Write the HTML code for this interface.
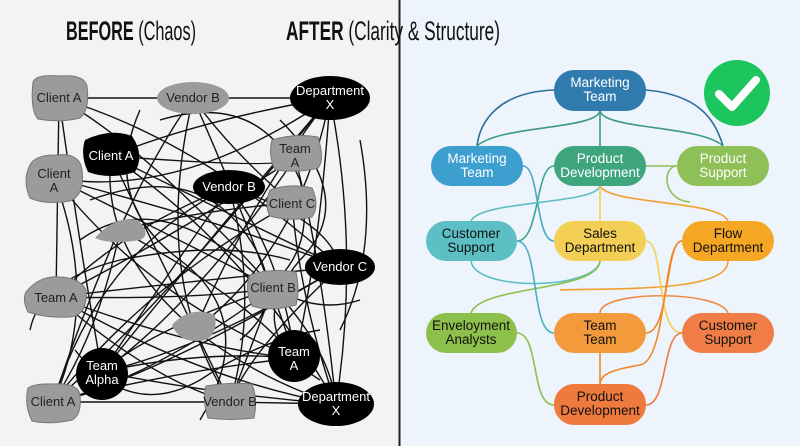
<!DOCTYPE html>
<html><head><meta charset="utf-8"><style>
html,body{margin:0;padding:0;width:800px;height:446px;overflow:hidden;background:#f3f3f3}
svg{display:block}
text{font-family:"Liberation Sans",sans-serif}
</style></head><body>
<svg width="800" height="446" viewBox="0 0 800 446" xmlns="http://www.w3.org/2000/svg">
<rect x="0" y="0" width="400" height="446" fill="#f3f3f3"/>
<rect x="400" y="0" width="400" height="446" fill="#edf4fb"/>
<rect x="398.5" y="0" width="2" height="446" fill="#222"/>
<text x="66" y="40" font-size="27" textLength="130" lengthAdjust="spacingAndGlyphs" fill="#111"><tspan font-weight="bold">BEFORE</tspan> (Chaos)</text>
<text x="286" y="40" font-size="27" textLength="214" lengthAdjust="spacingAndGlyphs" fill="#111"><tspan font-weight="bold">AFTER</tspan> (Clarity &amp; Structure)</text>

<g fill="none" stroke="#111" stroke-width="1.4">
<path d="M59,98 L193,98 L330,98"/>
<path d="M59,98 Q150,150 273,288"/>
<path d="M59,98 Q200,140 340,267"/>
<path d="M59,98 L56,297"/>
<path d="M59,98 Q80,250 102,372"/>
<path d="M193,98 Q120,200 53,402"/>
<path d="M193,98 Q230,150 292,203"/>
<path d="M193,98 Q260,250 295,358"/>
<path d="M193,98 Q150,280 230,402"/>
<path d="M330,98 Q200,120 111,156"/>
<path d="M330,98 Q180,200 54,178"/>
<path d="M330,98 Q200,250 102,372"/>
<path d="M330,98 Q320,250 295,358"/>
<path d="M330,98 Q360,250 336,404"/>
<path d="M330,98 Q250,200 195,330"/>
<path d="M330,98 Q150,320 53,402"/>
<path d="M111,156 Q200,200 340,267"/>
<path d="M111,156 Q250,250 336,404"/>
<path d="M111,156 Q180,300 230,402"/>
<path d="M111,156 Q290,170 295,158"/>
<path d="M54,178 Q150,300 295,358"/>
<path d="M54,178 Q200,250 273,288"/>
<path d="M54,178 Q250,230 340,267"/>
<path d="M54,178 Q100,300 53,402"/>
<path d="M295,158 Q150,250 56,297"/>
<path d="M295,158 Q200,300 102,372"/>
<path d="M295,158 Q320,250 336,404"/>
<path d="M229,187 Q100,250 53,402"/>
<path d="M229,187 Q150,300 102,372"/>
<path d="M229,187 Q280,250 295,358"/>
<path d="M229,187 Q260,300 230,402"/>
<path d="M229,187 Q120,230 56,297"/>
<path d="M229,187 Q330,220 340,267"/>
<path d="M292,203 Q150,280 53,402"/>
<path d="M292,203 Q200,210 120,230"/>
<path d="M292,203 Q300,300 336,404"/>
<path d="M340,267 Q200,280 56,297"/>
<path d="M340,267 Q200,350 102,372"/>
<path d="M340,267 Q250,350 230,402"/>
<path d="M340,267 Q150,380 53,402"/>
<path d="M56,297 Q200,300 273,288"/>
<path d="M56,297 Q200,350 295,358"/>
<path d="M56,297 Q150,380 230,402"/>
<path d="M56,297 Q200,380 336,404"/>
<path d="M273,288 Q150,330 102,372"/>
<path d="M273,288 Q150,380 53,402"/>
<path d="M273,288 Q330,350 336,404"/>
<path d="M273,288 Q250,350 230,402"/>
<path d="M102,372 Q200,350 295,358"/>
<path d="M102,372 Q220,395 336,404"/>
<path d="M53,402 L230,402 L336,404"/>
<path d="M53,402 Q180,370 295,358"/>
<path d="M120,230 Q250,300 295,358"/>
<path d="M120,230 Q100,330 53,402"/>
<path d="M195,330 Q300,250 330,98"/>
<path d="M195,330 Q100,250 111,156"/>
<path d="M195,330 Q260,380 336,404"/>
<path d="M160,120 Q260,90 300,180 Q320,260 250,300"/>
<path d="M80,240 Q150,190 240,260 Q300,320 360,300"/>
<path d="M75,350 Q130,420 200,380 Q260,340 320,330"/>
<path d="M140,110 Q100,200 180,260 Q260,320 200,420"/>
<path d="M280,120 Q360,200 300,260 Q240,330 320,380"/>
<path d="M90,200 Q200,160 250,240 Q290,300 240,340"/>
<path d="M30,330 Q40,280 120,260 Q220,240 290,260"/>
<path d="M360,140 Q380,250 340,330"/>
</g>

<g font-size="13" text-anchor="middle" fill="#222">
<path d="M33,82 Q36,74 60,76 Q84,74 87,86 Q90,110 80,118 Q60,123 38,119 Q30,110 33,82Z" fill="#9b9b9b" stroke="#777"/>
<text x="59" y="102">Client A</text>
<ellipse cx="193" cy="98" rx="36" ry="16" fill="#9b9b9b"/>
<text x="193" y="102">Vendor B</text>
<path d="M30,165 Q35,155 55,155 Q80,152 82,170 Q85,195 70,201 Q45,205 30,198 Q22,180 30,165Z" fill="#9b9b9b" stroke="#777"/>
<text x="54" y="178">Client</text><text x="54" y="192">A</text>
<path d="M272,140 Q295,133 318,137 Q325,160 318,168 Q300,173 275,170 Q268,155 272,140Z" fill="#9b9b9b" stroke="#777"/>
<text x="295" y="153">Team</text><text x="295" y="167">A</text>
<path d="M270,190 Q290,183 312,188 Q320,205 312,217 Q290,222 270,216 Q264,205 270,190Z" fill="#9b9b9b" stroke="#777"/>
<text x="292" y="208">Client C</text>
<path d="M95,238 Q115,215 138,220 Q152,235 140,240 Q110,245 95,238Z" fill="#9b9b9b"/>
<path d="M172,325 Q190,305 215,315 Q218,335 205,340 Q180,345 172,325Z" fill="#9b9b9b"/>
<path d="M26,292 Q40,275 60,277 Q80,278 86,290 Q88,315 70,317 Q45,318 28,312 Q22,300 26,292Z" fill="#9b9b9b" stroke="#777"/>
<text x="56" y="302">Team A</text>
<path d="M250,275 Q270,268 296,272 Q300,290 296,305 Q270,312 252,306 Q244,290 250,275Z" fill="#9b9b9b" stroke="#777"/>
<text x="273" y="292">Client B</text>
<path d="M28,388 Q35,383 55,384 Q78,383 80,395 Q82,415 72,420 Q50,425 32,421 Q24,405 28,388Z" fill="#9b9b9b" stroke="#777"/>
<text x="53" y="406">Client A</text>
<path d="M206,386 Q230,382 252,384 Q258,400 254,418 Q230,421 208,418 Q202,400 206,386Z" fill="#9b9b9b" stroke="#777"/>
<text x="230" y="406">Vendor B</text>
</g>
<g font-size="13" text-anchor="middle" fill="#fff">
<ellipse cx="330" cy="98" rx="40" ry="22" fill="#000"/>
<text x="330" y="95">Department</text><text x="330" y="109">X</text>
<path d="M85,140 Q110,128 132,136 Q145,155 135,172 Q110,180 88,172 Q80,155 85,140Z" fill="#000"/>
<text x="111" y="160">Client A</text>
<ellipse cx="229" cy="187" rx="36" ry="17" fill="#000"/>
<text x="229" y="191">Vendor B</text>
<ellipse cx="340" cy="267" rx="35" ry="18" fill="#000"/>
<text x="340" y="271">Vendor C</text>
<circle cx="294" cy="356" r="26" fill="#000"/>
<text x="294" y="356">Team</text><text x="294" y="370">A</text>
<circle cx="102" cy="374" r="26" fill="#000"/>
<text x="102" y="370">Team</text><text x="102" y="384">Alpha</text>
<ellipse cx="336" cy="404" rx="38" ry="22" fill="#000"/>
<text x="336" y="401">Department</text><text x="336" y="415">X</text>
</g>

<g fill="none" stroke-width="1.6">
<path d="M554,90 C500,92 480,120 477,146" stroke="#2c6e9a"/>
<path d="M646,90 C700,95 715,120 723,146" stroke="#2c6e9a"/>
<path d="M600,111 L600,146" stroke="#3a9a85"/>
<path d="M600,111 C595,130 500,125 477,146" stroke="#3a9a85"/>
<path d="M600,111 C605,130 700,125 723,146" stroke="#3a9a85"/>
<path d="M523,166 C540,166 535,241 554,241" stroke="#4aa9c4"/>
<path d="M554,166 C535,166 540,241 517,241" stroke="#3aa590"/>
<path d="M646,166 L677,166" stroke="#8fbf57"/>
<path d="M600,186 C595,205 480,200 471,221" stroke="#5bbfc4"/>
<path d="M600,186 C610,205 720,200 728,221" stroke="#f0a030"/>
<path d="M677,166 C662,166 662,200 690,202" stroke="#8fbf57"/>
<path d="M600,186 L600,221" stroke="#f4cf55"/>
<path d="M471,261 C475,292 595,290 600,261" stroke="#5bbfc4"/>
<path d="M600,261 C598,292 480,285 471,313" stroke="#8dc04a"/>
<path d="M728,261 C728,292 620,288 560,290" stroke="#f0a030"/>
<path d="M600,313 C600,290 720,290 728,313" stroke="#ef8a45"/>
<path d="M517,241 C540,241 530,333 554,333" stroke="#4ab0c0"/>
<path d="M646,241 C665,241 655,333 682,333" stroke="#f4cf55"/>
<path d="M682,241 C665,241 670,333 646,333" stroke="#f0882a"/>
<path d="M682,241 C662,241 668,360 640,365 C610,370 600,375 600,384" stroke="#f0882a"/>
<path d="M600,353 L600,384" stroke="#f0882a"/>
<path d="M682,333 C662,333 668,405 646,405" stroke="#ef7a3e"/>
<path d="M517,333 C540,333 530,405 554,405" stroke="#8dc04a"/>
</g>

<g font-size="13.5" text-anchor="middle">
<rect x="554" y="70" width="92" height="41" rx="20" fill="#2f7bae"/>
<text x="600" y="87" fill="#fff">Marketing</text><text x="600" y="101" fill="#fff">Team</text>
<rect x="431" y="146" width="92" height="40" rx="20" fill="#3d9fd0"/>
<text x="477" y="163" fill="#fff">Marketing</text><text x="477" y="177" fill="#fff">Team</text>
<rect x="554" y="146" width="92" height="40" rx="20" fill="#3ea57f"/>
<text x="600" y="163" fill="#fff">Product</text><text x="600" y="177" fill="#fff">Development</text>
<rect x="677" y="146" width="92" height="40" rx="20" fill="#8fbf57"/>
<text x="723" y="163" fill="#fff">Product</text><text x="723" y="177" fill="#fff">Support</text>
<rect x="426" y="221" width="91" height="40" rx="20" fill="#5bbfc4"/>
<text x="471" y="238" fill="#111">Customer</text><text x="471" y="252" fill="#111">Support</text>
<rect x="554" y="221" width="92" height="40" rx="20" fill="#f4cf55"/>
<text x="600" y="238" fill="#111">Sales</text><text x="600" y="252" fill="#111">Department</text>
<rect x="682" y="221" width="92" height="40" rx="20" fill="#f5a623"/>
<text x="728" y="238" fill="#111">Flow</text><text x="728" y="252" fill="#111">Department</text>
<rect x="426" y="313" width="91" height="40" rx="20" fill="#8dc04a"/>
<text x="471" y="330" fill="#111">Enveloyment</text><text x="471" y="344" fill="#111">Analysts</text>
<rect x="554" y="313" width="92" height="40" rx="20" fill="#f39a3c"/>
<text x="600" y="330" fill="#111">Team</text><text x="600" y="344" fill="#111">Team</text>
<rect x="682" y="313" width="92" height="40" rx="20" fill="#ef7d45"/>
<text x="728" y="330" fill="#111">Customer</text><text x="728" y="344" fill="#111">Support</text>
<rect x="554" y="384" width="92" height="41" rx="20" fill="#ef7a3e"/>
<text x="600" y="401" fill="#111">Product</text><text x="600" y="415" fill="#111">Development</text>
</g>
<circle cx="737" cy="93" r="33" fill="#1dc55e"/>
<path d="M719,94 L732,107 L756,80" fill="none" stroke="#fff" stroke-width="8" stroke-linecap="round" stroke-linejoin="round"/>
</svg>
</body></html>
